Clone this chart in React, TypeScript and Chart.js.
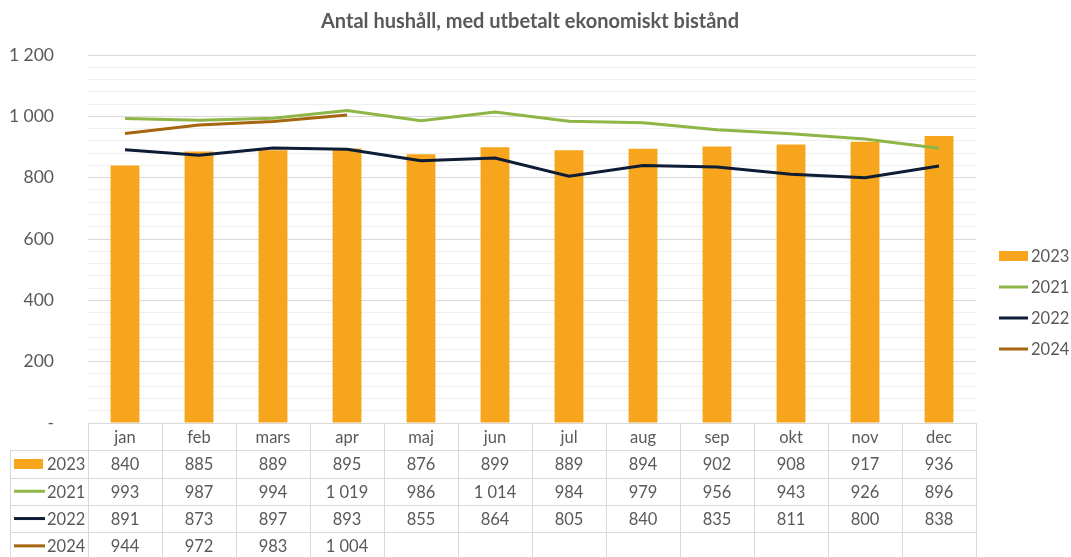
import React, { useEffect, useRef } from "react";
import { Chart, registerables } from "chart.js";

Chart.register(...registerables);

const months = ["jan", "feb", "mars", "apr", "maj", "jun", "jul", "aug", "sep", "okt", "nov", "dec"];
const s2023 = [840, 885, 889, 895, 876, 899, 889, 894, 902, 908, 917, 936];
const s2021 = [993, 987, 994, 1019, 986, 1014, 984, 979, 956, 943, 926, 896];
const s2022 = [891, 873, 897, 893, 855, 864, 805, 840, 835, 811, 800, 838];
const s2024 = [944, 972, 983, 1004, null, null, null, null, null, null, null, null];
const yTicks = [0, 200, 400, 600, 800, 1000, 1200];

const TITLE = "Antal hushåll, med utbetalt ekonomiskt bistånd";
const FONT = "Lato, 'Open Sans', sans-serif";
const TEXT = "#595959";
const GRID_MAJOR = "#d9d9d9";
const GRID_MINOR = "#f0f0f0";

const C2023 = "#F7A51C";
const C2021 = "#8DB646";
const C2022 = "#0E1C36";
const C2024 = "#A5660F";

const fmt = (v: number | null) => {
  if (v === null || v === undefined) return "";
  if (v === 0) return "-";
  const s = String(Math.round(v));
  return s.length > 3 ? s.slice(0, s.length - 3) + " " + s.slice(-3) : s;
};

const series = [
  { label: "2023", data: s2023, color: C2023, kind: "bar" },
  { label: "2021", data: s2021, color: C2021, kind: "line" },
  { label: "2022", data: s2022, color: C2022, kind: "line" },
  { label: "2024", data: s2024, color: C2024, kind: "line" },
];

const drawKey = (ctx: CanvasRenderingContext2D, kind: string, color: string, x: number, y: number, w: number) => {
  if (kind === "bar") {
    ctx.fillStyle = color;
    ctx.fillRect(x, y - 5, w, 10);
  } else {
    ctx.strokeStyle = color;
    ctx.lineWidth = 3;
    ctx.beginPath();
    ctx.moveTo(x, y);
    ctx.lineTo(x + w, y);
    ctx.stroke();
  }
};

const decorPlugin = {
  id: "decor",
  afterDraw(chart: any) {
    const ctx: CanvasRenderingContext2D = chart.ctx;
    const area = chart.chartArea;
    const xs = chart.scales.x;
    ctx.save();

    // title
    ctx.fillStyle = TEXT;
    ctx.font = `bold 20px ${FONT}`;
    ctx.textAlign = "center";
    ctx.textBaseline = "middle";
    ctx.fillText(TITLE, 530, 22);

    // data table
    const rowH = 27.3;
    const top = area.bottom;
    const n = months.length;
    const colW = (area.right - area.left) / n;
    const leftCol = 10;
    ctx.strokeStyle = GRID_MAJOR;
    ctx.lineWidth = 1;
    ctx.beginPath();
    ctx.moveTo(area.left, top + 0.5);
    ctx.lineTo(area.right, top + 0.5);
    for (let r = 1; r <= series.length + 1; r++) {
      const y = Math.round(top + r * rowH) + 0.5;
      ctx.moveTo(leftCol, y);
      ctx.lineTo(area.right, y);
    }
    for (let i = 0; i <= n; i++) {
      const x = Math.round(area.left + i * colW) + 0.5;
      ctx.moveTo(x, top);
      ctx.lineTo(x, top + (series.length + 1) * rowH + 10);
    }
    ctx.moveTo(leftCol + 0.5, top + rowH);
    ctx.lineTo(leftCol + 0.5, top + (series.length + 1) * rowH + 10);
    ctx.stroke();

    ctx.fillStyle = TEXT;
    ctx.font = `16.5px ${FONT}`;
    ctx.textAlign = "center";
    ctx.textBaseline = "middle";
    months.forEach((m, i) => {
      ctx.fillText(m, xs.getPixelForValue(i), top + rowH / 2 + 1);
    });
    series.forEach((s, r) => {
      const cy = top + (r + 1) * rowH + rowH / 2 + 1;
      ctx.fillStyle = TEXT;
      ctx.textAlign = "center";
      s.data.forEach((v, i) => {
        ctx.fillText(fmt(v as any), xs.getPixelForValue(i), cy);
      });
      drawKey(ctx, s.kind, s.color, 14, cy - 1, s.kind === "bar" ? 29 : 31);
      ctx.fillStyle = TEXT;
      ctx.textAlign = "left";
      ctx.fillText(s.label, 47, cy);
    });

    // right legend
    series.forEach((s, r) => {
      const cy = 256 + r * 31;
      drawKey(ctx, s.kind, s.color, 999, cy, 29);
      ctx.fillStyle = TEXT;
      ctx.textAlign = "left";
      ctx.textBaseline = "middle";
      ctx.font = `16.5px ${FONT}`;
      ctx.fillText(s.label, 1031, cy + 1);
    });

    ctx.restore();
  },
};

export default function App() {
  const ref = useRef<HTMLCanvasElement | null>(null);
  useEffect(() => {
    document.body.style.margin = "0";
    const canvas = ref.current!;
    const chart = new Chart(canvas, {
      type: "bar",
      data: {
        labels: months,
        datasets: [
          {
            type: "bar",
            label: "2023",
            data: s2023,
            backgroundColor: C2023,
            barPercentage: 0.39,
            categoryPercentage: 1,
            order: 5,
          },
          {
            type: "line",
            label: "2021",
            data: s2021,
            borderColor: C2021,
            borderWidth: 3,
            pointRadius: 0,
            tension: 0,
            order: 3,
          },
          {
            type: "line",
            label: "2022",
            data: s2022,
            borderColor: C2022,
            borderWidth: 3,
            pointRadius: 0,
            tension: 0,
            order: 2,
          },
          {
            type: "line",
            label: "2024",
            data: s2024,
            borderColor: C2024,
            borderWidth: 3,
            pointRadius: 0,
            tension: 0,
            order: 4,
            spanGaps: false,
          },
        ] as any,
      },
      options: {
        responsive: false,
        animation: false,
        layout: { padding: { left: 0, top: 55, right: 95, bottom: 134 } },
        plugins: {
          legend: { display: false },
          title: { display: false },
          tooltip: { enabled: false },
        },
        scales: {
          x: { display: false, offset: true },
          y: {
            min: 0,
            max: 1200,
            border: { display: false },
            afterFit: (scale: any) => {
              scale.width = 88;
            },
            ticks: {
              stepSize: 40,
              autoSkip: false,
              color: TEXT,
              font: { family: FONT, size: 17.5 },
              padding: 34,
              callback: (v: any) => (yTicks.includes(Number(v)) ? fmt(Number(v)) : ""),
            },
            grid: {
              drawTicks: false,
              color: (c: any) => (c.tick && c.tick.value % 200 === 0 ? GRID_MAJOR : GRID_MINOR),
            },
          },
        },
      },
      plugins: [decorPlugin],
    });
    return () => chart.destroy();
  }, []);
  return <canvas ref={ref} width={1071} height={557} style={{ display: "block" }} />;
}
